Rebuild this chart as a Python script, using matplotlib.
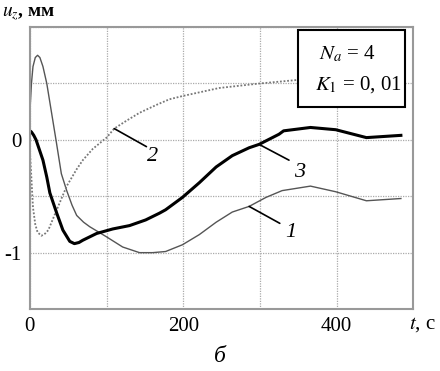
import matplotlib
matplotlib.use("Agg")
import matplotlib.pyplot as plt
from matplotlib.patches import Rectangle

plt.rcParams['font.family'] = ['Liberation Serif', 'DejaVu Serif']
plt.rcParams['mathtext.fontset'] = 'stix'

# кривая 1 (тонкая)
t1 = [0, 2, 4, 7, 10, 13, 17, 22, 28, 34, 41, 48, 55, 61, 70, 78, 100, 121, 143, 160, 177, 199,
      221, 243, 264, 286, 308, 329, 366, 399, 439, 484]
u1 = [0.25, 0.50, 0.65, 0.73, 0.75, 0.73, 0.65, 0.50, 0.25, 0.0, -0.30, -0.45, -0.58, -0.67, -0.73,
      -0.77, -0.86, -0.95, -1.0, -1.0, -0.99, -0.93, -0.84, -0.73, -0.64, -0.59, -0.51, -0.45, -0.41,
      -0.46, -0.54, -0.52]

# кривая 2 (пунктир)
t2 = [0, 2, 4, 7, 10, 15, 20, 24, 35, 48, 61, 69, 82, 100, 110, 126, 143, 165, 182, 200, 247, 300,
      347, 400, 450, 490]
u2 = [-0.10, -0.35, -0.60, -0.75, -0.82, -0.85, -0.83, -0.80, -0.62, -0.41, -0.26, -0.18, -0.08,
      0.02, 0.10, 0.17, 0.24, 0.31, 0.36, 0.39, 0.46, 0.50, 0.53, 0.545, 0.55, 0.555]

# кривая 3 (жирная)
t3 = [0, 2, 5, 8, 12, 17, 22, 26, 35, 43, 52, 58, 64, 69, 87, 108, 130, 151, 169, 177, 199, 221,
      243, 264, 286, 299, 325, 331, 366, 399, 439, 484]
u3 = [0.08, 0.07, 0.04, 0.0, -0.08, -0.18, -0.33, -0.47, -0.65, -0.80, -0.90, -0.92, -0.91, -0.89,
      -0.83, -0.79, -0.76, -0.71, -0.65, -0.62, -0.51, -0.38, -0.24, -0.14, -0.07, -0.04, 0.05, 0.08,
      0.11, 0.09, 0.02, 0.04]

xticks = [0, 100, 200, 300, 400, 500]
xlabels = ['0', '', '200', '', '400', '']
yticks = [-1.5, -1, -0.5, 0, 0.5, 1]
ylabels = ['', '-1', '', '0', '', '']

fig = plt.figure(figsize=(4.4, 3.71), dpi=100)
ax = fig.add_axes([0.068, 0.167, 0.871, 0.760])

ax.plot(t1, u1, color='#555555', lw=1.0)
ax.plot(t2, u2, color='#777777', lw=1.3, ls=(0, (1, 1)))
ax.plot(t3, u3, color='black', lw=2.2)

ax.set_xlim(0, 500)
ax.set_ylim(-1.5, 1.0)
ax.set_xticks(xticks)
ax.set_xticklabels(xlabels)
ax.set_yticks(yticks)
ax.set_yticklabels(ylabels)
ax.tick_params(length=0, labelsize=15, pad=6)
ax.grid(True, color='#aaaaaa', ls=(0, (1, 1)), lw=0.9)
for s in ax.spines.values():
    s.set_color('#999999')
    s.set_linewidth(1.5)

# выноски
lead = dict(arrowstyle='-', color='black', lw=1.2, shrinkA=0, shrinkB=0)
ax.annotate('', xy=(110, 0.1), xytext=(152, -0.06), arrowprops=lead)
ax.text(160, -0.15, '2', fontsize=16, style='italic', ha='center', va='center')
ax.annotate('', xy=(299, -0.04), xytext=(338, -0.18), arrowprops=lead)
ax.text(352, -0.29, '3', fontsize=16, style='italic', ha='center', va='center')
ax.annotate('', xy=(286, -0.59), xytext=(326, -0.74), arrowprops=lead)
ax.text(340, -0.82, '1', fontsize=16, style='italic', ha='center', va='center')

# рамка с параметрами
ax.add_patch(Rectangle((0.70, 0.716), 0.279, 0.273, transform=ax.transAxes,
                       facecolor='white', edgecolor='black', lw=1.5, zorder=5))
ax.text(0.755, 0.905, '$N_a$ = 4', transform=ax.transAxes, fontsize=15,
        va='center', ha='left', zorder=6)
ax.text(0.745, 0.795, '$K_1$ = 0, 01', transform=ax.transAxes, fontsize=15,
        va='center', ha='left', zorder=6)

fig.text(0.005, 0.962, '$u_z$, мм', fontsize=14, fontweight='bold', va='center', ha='left')
fig.text(0.96, 0.124, '$t$, с', fontsize=15, va='center', ha='center')
fig.text(0.5, 0.04, 'б', fontsize=17, style='italic', va='center', ha='center')

fig.savefig('out.png', dpi=100)
